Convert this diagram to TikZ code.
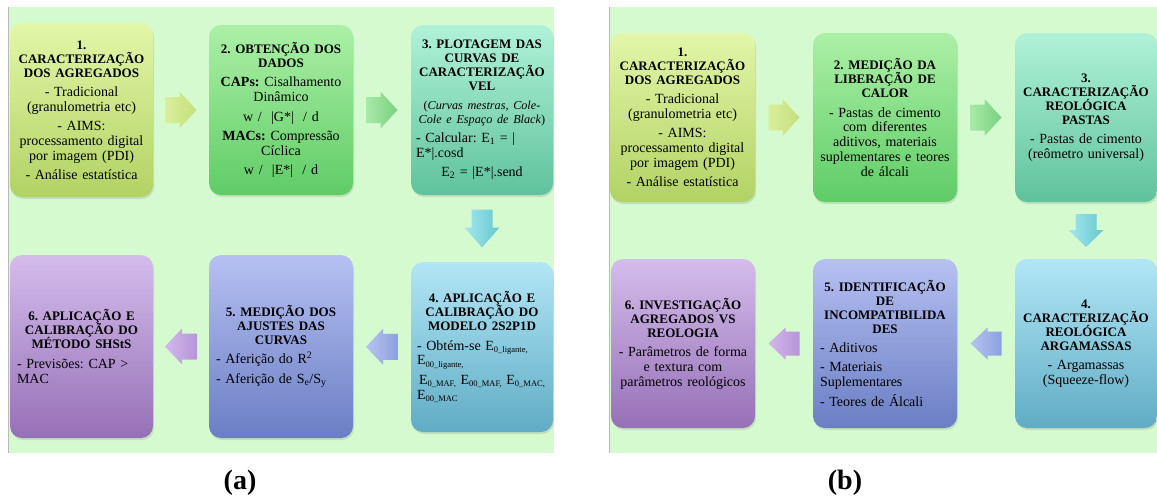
\documentclass[tikz,border=0pt]{standalone}
\usepackage{fontspec}
\setmainfont{Liberation Serif}
\usetikzlibrary{shadows,calc}
\setlength\parindent{0pt}
\setlength\parskip{0pt}
\frenchspacing
\definecolor{bg}{RGB}{213,250,208}
\definecolor{c1t}{RGB}{226,246,168}\definecolor{c1b}{RGB}{178,210,100}
\definecolor{c2t}{RGB}{172,240,166}\definecolor{c2b}{RGB}{95,204,102}
\definecolor{c3t}{RGB}{176,242,216}\definecolor{c3b}{RGB}{95,194,156}
\definecolor{c4t}{RGB}{178,230,246}\definecolor{c4b}{RGB}{96,172,196}
\definecolor{c5t}{RGB}{182,192,242}\definecolor{c5b}{RGB}{106,126,196}
\definecolor{c6t}{RGB}{212,188,236}\definecolor{c6b}{RGB}{150,112,182}
\newcommand\ttl[1]{{\centering\fontsize{13}{14}\selectfont\bfseries #1\par}}
\newcommand\ctr[1]{{\centering #1\par}}
\newcommand\lft[1]{{\raggedright #1\par}}
\newcommand\pgap{\vspace{4.5pt}}
\newcommand\sbs[1]{\raisebox{-0.35ex}{\fontsize{8.5}{9}\selectfont #1}}
% #1 centre, #2 rotation, #3 length, #4 head length, #5 body half width, #6 head half width, #7 shading
\newcommand\blkarrow[7]{%
  \shade[shift={#1},rotate=#2,#7]
    (-#3/2,-#5) -- (#3/2-#4,-#5) -- (#3/2-#4,-#6) -- (#3/2,0)
    -- (#3/2-#4,#6) -- (#3/2-#4,#5) -- (-#3/2,#5) -- cycle;}
\begin{document}
\begin{tikzpicture}[x=1pt,y=-1pt,
  box/.style={rectangle, rounded corners=12pt, inner xsep=7pt, inner ysep=0pt,
    font=\fontsize{14}{14.8}\selectfont, anchor=center,
    drop shadow={shadow xshift=1pt,shadow yshift=-2pt,opacity=0.22}},
  lab/.style={font=\fontsize{28}{30}\selectfont\bfseries}]
\useasboundingbox (0,0) rectangle (1157,501);
\fill[white] (0,0) rectangle (1157,501);
\fill[bg] (8,7) rectangle (554,453);
\draw[gray!55,line width=0.8pt] (8,7) -- (8,453);
\fill[bg] (609,7) rectangle (1157,453);
\draw[gray!55,line width=0.8pt] (609,7) -- (609,453);

% ---------- panel (a) ----------
\node[box,top color=c1t,bottom color=c1b,minimum width=143,minimum height=174,text width=129] (a1) at (81.5,110) {%
\ttl{1.\\CARACTERIZAÇÃO\\DOS AGREGADOS}\pgap
\ctr{- Tradicional\\(granulometria etc)}\pgap
\ctr{- AIMS:\\processamento digital\\por imagem (PDI)}\pgap
\ctr{- Análise estatística}};

\node[box,top color=c2t,bottom color=c2b,minimum width=144,minimum height=170,text width=130] (a2) at (281,110) {%
\ttl{2. OBTENÇÃO DOS\\DADOS}\pgap
\ctr{\textbf{CAPs:} Cisalhamento\\Dinâmico}\pgap
\ctr{w /\ \ |G*|\ \ / d}\pgap
\ctr{\textbf{MACs:} Compressão\\Cíclica}\pgap
\ctr{w /\ \ |E*|\ \ / d}};

\node[box,top color=c3t,bottom color=c3b,minimum width=142,minimum height=170,inner xsep=5pt,text width=132] (a3) at (482,110) {%
\ttl{3. PLOTAGEM DAS\\CURVAS DE\\CARACTERIZAÇÃO\\VEL}\pgap
{\centering\fontsize{12.2}{14}\selectfont(\textit{Curvas mestras, Cole-}\\\textit{Cole e Espaço de Black})\par}\pgap
\lft{- Calcular: E\textsubscript{1} = |\\E*|.cosd}\pgap
\ctr{E\textsubscript{2} = |E*|.send}};

\node[box,top color=c4t,bottom color=c4b,minimum width=142,minimum height=170,inner xsep=6pt,text width=130] (a4) at (482,347) {%
\ttl{4. APLICAÇÃO E\\CALIBRAÇÃO DO\\MODELO 2S2P1D}\pgap
\lft{- Obtém-se E\sbs{0\_ligante,}\\E\sbs{00\_ligante,}}\pgap
\lft{\hspace*{2pt}E\sbs{0\_MAF,} E\sbs{00\_MAF,} E\sbs{0\_MAC,}\\E\sbs{00\_MAC}}};

\node[box,top color=c5t,bottom color=c5b,minimum width=144,minimum height=183,text width=130] (a5) at (281,346.5) {%
\ttl{5. MEDIÇÃO DOS\\AJUSTES DAS\\CURVAS}\pgap
\lft{- Aferição do R\textsuperscript{2}}\pgap
\lft{- Aferição de S\textsubscript{e}/S\textsubscript{y}}};

\node[box,top color=c6t,bottom color=c6b,minimum width=143,minimum height=183,text width=129] (a6) at (81.5,346.5) {%
\ttl{6. APLICAÇÃO E\\CALIBRAÇÃO DO\\MÉTODO SHStS}\pgap
\lft{- Previsões: CAP >\\MAC}};

\blkarrow{($(a1.east)!0.5!(a2.west)$)}{0}{31}{17}{13}{18.5}{left color={rgb,255:red,218;green,238;blue,155},right color={rgb,255:red,196;green,224;blue,125}}
\blkarrow{($(a2.east)!0.5!(a3.west)$)}{0}{31}{17}{13}{18.5}{left color={rgb,255:red,170;green,232;blue,168},right color={rgb,255:red,118;green,210;blue,128}}
\blkarrow{($(a3.south)!0.5!(a4.north)$)}{-90}{38}{20}{10.5}{17.5}{left color={rgb,255:red,165;green,230;blue,238},right color={rgb,255:red,100;green,200;blue,206}}
\blkarrow{($(a5.east)!0.5!(a4.west)$)}{180}{32}{17}{13}{18}{left color={rgb,255:red,182;green,196;blue,240},right color={rgb,255:red,140;green,160;blue,222}}
\blkarrow{($(a6.east)!0.5!(a5.west)$)}{180}{32}{17}{13}{18}{left color={rgb,255:red,210;green,184;blue,236},right color={rgb,255:red,184;green,148;blue,216}}

% ---------- panel (b) ----------
\node[box,top color=c1t,bottom color=c1b,minimum width=145,minimum height=169,text width=131] (b1) at (682.5,117.5) {%
\ttl{1.\\CARACTERIZAÇÃO\\DOS AGREGADOS}\pgap
\ctr{- Tradicional\\(granulometria etc)}\pgap
\ctr{- AIMS:\\processamento digital\\por imagem (PDI)}\pgap
\ctr{- Análise estatística}};

\node[box,top color=c2t,bottom color=c2b,minimum width=144,minimum height=169,inner xsep=5pt,text width=134] (b2) at (885,117.5) {%
\ttl{2. MEDIÇÃO DA\\LIBERAÇÃO DE\\CALOR}\pgap
\ctr{- Pastas de cimento\\com diferentes\\aditivos, materiais\\suplementares e teores\\de álcali}};

\node[box,top color=c3t,bottom color=c3b,minimum width=142,minimum height=169,text width=128] (b3) at (1086,117.5) {%
\ttl{3.\\CARACTERIZAÇÃO\\REOLÓGICA\\PASTAS}\pgap
\ctr{- Pastas de cimento\\(reômetro universal)}};

\node[box,top color=c4t,bottom color=c4b,minimum width=142,minimum height=169,text width=128] (b4) at (1086,343.5) {%
\ttl{4.\\CARACTERIZAÇÃO\\REOLÓGICA\\ARGAMASSAS}\pgap
\ctr{- Argamassas\\(Squeeze-flow)}};

\node[box,top color=c5t,bottom color=c5b,minimum width=144,minimum height=169,text width=130] (b5) at (885,343.5) {%
\ttl{5. IDENTIFICAÇÃO\\DE\\INCOMPATIBILIDA\\DES}\pgap
\lft{- Aditivos}\pgap
\lft{- Materiais\\Suplementares}\pgap
\lft{- Teores de Álcali}};

\node[box,top color=c6t,bottom color=c6b,minimum width=144,minimum height=169,inner xsep=5pt,text width=134] (b6) at (683,343.5) {%
\ttl{6. INVESTIGAÇÃO\\AGREGADOS VS\\REOLOGIA}\pgap
\ctr{- Parâmetros de forma\\e textura com\\parâmetros reológicos}};

\blkarrow{($(b1.east)!0.5!(b2.west)$)}{0}{31}{17}{13}{18.5}{left color={rgb,255:red,218;green,238;blue,155},right color={rgb,255:red,196;green,224;blue,125}}
\blkarrow{($(b2.east)!0.5!(b3.west)$)}{0}{31}{17}{13}{18.5}{left color={rgb,255:red,170;green,232;blue,168},right color={rgb,255:red,118;green,210;blue,128}}
\blkarrow{($(b3.south)!0.5!(b4.north)$)}{-90}{33}{17}{10.5}{17.5}{left color={rgb,255:red,165;green,230;blue,238},right color={rgb,255:red,100;green,200;blue,206}}
\blkarrow{($(b5.east)!0.5!(b4.west)$)}{180}{31}{17}{12}{16}{left color={rgb,255:red,182;green,196;blue,240},right color={rgb,255:red,140;green,160;blue,222}}
\blkarrow{($(b6.east)!0.5!(b5.west)$)}{180}{31}{17}{12}{16}{left color={rgb,255:red,210;green,184;blue,236},right color={rgb,255:red,184;green,148;blue,216}}

\node[lab] (la) at (240,483) {(a)};
\node[lab] (lb) at (845,483) {(b)};
\end{tikzpicture}
\end{document}
